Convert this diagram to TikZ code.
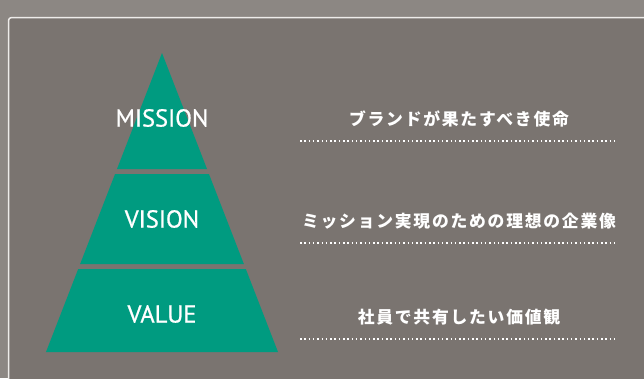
\documentclass[tikz,border=0pt]{standalone}
\usepackage{fontspec}
\setsansfont{PT Sans}
\newfontfamily\tierfont[FakeBold=0.8]{PT Sans}
\newfontfamily\jpfont[LetterSpace=10.5]{Noto Sans CJK JP}

\definecolor{outerbg}{RGB}{140,135,131}
\definecolor{panelbg}{RGB}{122,116,112}
\definecolor{tiergreen}{RGB}{0,155,128}
\definecolor{frameline}{RGB}{238,236,234}

\tikzset{
  tier/.style={fill=tiergreen, draw=none},
  tierlabel/.style={text=white, font=\tierfont\fontsize{24.5}{24.5}\selectfont, inner sep=0pt},
  desclabel/.style={text=white, font=\jpfont\bfseries\fontsize{16.8}{16.8}\selectfont, inner sep=0pt},
  dotline/.style={white, line width=1.5pt, dash pattern=on 1.5pt off 2.8pt}
}

\begin{document}
\begin{tikzpicture}[
  x=1pt, y=-1pt, % one pixel per point, y downward
  line join=round
]
  % ---- picture size ----
  \def\W{644}
  \def\H{378}
  % ---- pyramid apex and flank slope ----
  \def\Ax{162}
  \def\Ay{53}
  \def\slope{0.388}

  % ---- background ----
  \fill[outerbg] (0,0) rectangle (\W,\H);
  \useasboundingbox (0,0) rectangle (\W,\H);

  % ---- panel (runs off right and bottom edges) ----
  \draw[fill=panelbg, draw=frameline, line width=1.5pt, rounded corners=3pt]
    (8.5,17.5) rectangle (\W+20,\H+20);

  % ---- tiers: top/bottom y, label y, names, description ----
  \foreach \top/\bot/\ly/\name/\lbl/\desc/\dy in {
    53/169/118/mission/MISSION/ブランドが果たすべき使命/119,
    174/264/219/vision/VISION/ミッション実現のための理想の企業像/221,
    269/352/314/value/VALUE/社員で共有したい価値観/317
  }{
    \pgfmathsetmacro{\wt}{(\top-\Ay)*\slope}
    \pgfmathsetmacro{\wb}{(\bot-\Ay)*\slope}
    \fill[tier] (\Ax-\wt,\top) -- (\Ax+\wt,\top) -- (\Ax+\wb,\bot) -- (\Ax-\wb,\bot) -- cycle;
    \node[tierlabel] (\name) at (\Ax,\ly) {\lbl};
    \node[desclabel] (\name-desc) at (459,\dy) {\desc};
    \draw[dotline] (300,\dy+22) -- (618,\dy+22);
  }
\end{tikzpicture}
\end{document}
